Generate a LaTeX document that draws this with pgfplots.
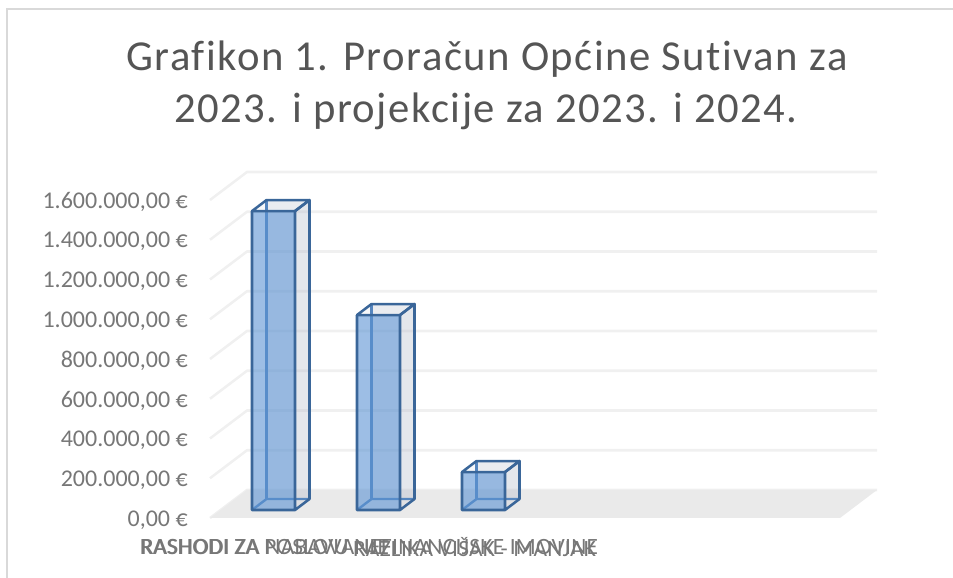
\documentclass[border=0pt]{standalone}
\usepackage{fontspec}
\setmainfont[Ligatures=NoCommon]{Carlito}
\newfontfamily\titlefont[LetterSpace=3.5,Ligatures=NoCommon]{Carlito}
\newfontfamily\catfont[LetterSpace=1.2,Ligatures=NoCommon]{Carlito}
\usepackage{pgfplots}
\pgfplotsset{compat=1.18}
\definecolor{titlegray}{HTML}{555555}
\definecolor{tickgray}{HTML}{777777}
\definecolor{gridgray}{HTML}{F0F0F0}
\definecolor{floorgray}{HTML}{EAEAEA}
\definecolor{framegray}{HTML}{D9D9D9}
\definecolor{barfill}{HTML}{5B93D3}
\definecolor{barline}{HTML}{3A6699}
\definecolor{backline}{HTML}{5585BE}
\definecolor{sidefill}{HTML}{B4BCCB}
\newcommand{\gridl}[2]{\addplot[gridgray,line width=1.9pt,line join=round] coordinates {(-0.5,#1)(-0.14762,#2)(5.85238,#2)};}
% a b c d = front left, front right, back left, back right; t = front top, u = back top
\newcommand{\onebar}[6]{%
\addplot[draw=none,fill=sidefill,fill opacity=0.2] coordinates {(#3,95597)(#4,95597)(#4,#6)(#3,#6)} -- cycle;
\addplot[draw=none,fill=sidefill,fill opacity=0.2] coordinates {(#2,40252)(#4,95597)(#4,#6)(#2,#5)} -- cycle;
\addplot[draw=none,fill=sidefill,fill opacity=0.1] coordinates {(#1,#5)(#2,#5)(#4,#6)(#3,#6)} -- cycle;
\addplot[backline,line width=1.8pt] coordinates {(#3,95597)(#3,#6)};
\addplot[backline,line width=1.8pt] coordinates {(#1,40252)(#3,95597)(#4,95597)};
\addplot[draw=none,fill=barfill,fill opacity=0.6] coordinates {(#1,40252)(#2,40252)(#2,#5)(#1,#5)} -- cycle;
\addplot[barline,line width=1.9pt,line join=round] coordinates {(#2,#5)(#1,#5)(#3,#6)(#4,#6)(#2,#5)};
\addplot[barline,line width=1.9pt,line join=round] coordinates {(#1,#5)(#1,40252)(#2,40252)(#4,95597)(#4,#6)(#2,#5)(#2,40252)};
}
\begin{document}
\begin{tikzpicture}[x=0.75pt,y=0.75pt]
\path[use as bounding box] (0,0) rectangle (953,578);
\draw[framegray,line width=1.2pt] (7,0) -- (7,569) -- (953,569);
\node[titlegray,font=\fontsize{32}{32}\titlefont,anchor=center] at (487,519) {Grafikon 1. Proračun Općine Sutivan za};
\node[titlegray,font=\fontsize{32}{32}\titlefont,anchor=center] at (486,466.5) {2023. i projekcije za 2023. i 2024.};
\begin{axis}[
  at={(157.5pt,45pt)},anchor=south west,
  scale only axis,width=500.25pt,height=259.5pt,
  xmin=-0.5,xmax=5.85238,ymin=0,ymax=1740881,
  clip=false,
  scaled y ticks=false,
  axis line style={draw=none},
  tick style={draw=none},
  xtick={0,1,2},
  xticklabels={RASHODI ZA POSLOVANJE,RASHODI ZA NABAVU NEFINANCIJSKE IMOVINE,RAZLIKA VIŠAK - MANJAK},
  ytick={0,200000,400000,600000,800000,1000000,1200000,1400000,1600000},
  yticklabels={{0,00 €},{200.000,00 €},{400.000,00 €},{600.000,00 €},{800.000,00 €},{1.000.000,00 €},{1.200.000,00 €},{1.400.000,00 €},{1.600.000,00 €}},
  yticklabel style={font=\fontsize{18}{18}\selectfont,text=tickgray,anchor=east,inner sep=0pt,xshift=-16.5pt,yshift=-1.5pt},
  xticklabel style={font=\fontsize{17.5}{17.5}\catfont,text=tickgray,anchor=center,inner sep=0pt,yshift=-22pt,xshift=1.5pt},
]
\gridl{0}{140881}
\gridl{200000}{340881}
\gridl{400000}{540881}
\gridl{600000}{740881}
\gridl{800000}{940881}
\gridl{1000000}{1140881}
\gridl{1200000}{1340881}
\gridl{1400000}{1540881}
\gridl{1600000}{1740881}
\addplot[draw=none,fill=floorgray] coordinates {(-0.5,0)(5.5,0)(5.85238,140881)(-0.14762,140881)} -- cycle;
\onebar{-0.1}{0.3095}{0.038}{0.4475}{1544252}{1599597}
\onebar{0.9}{1.3095}{1.038}{1.4475}{1021252}{1076597}
\onebar{1.9}{2.3095}{2.038}{2.4475}{231252}{286597}
\end{axis}
\end{tikzpicture}
\end{document}
